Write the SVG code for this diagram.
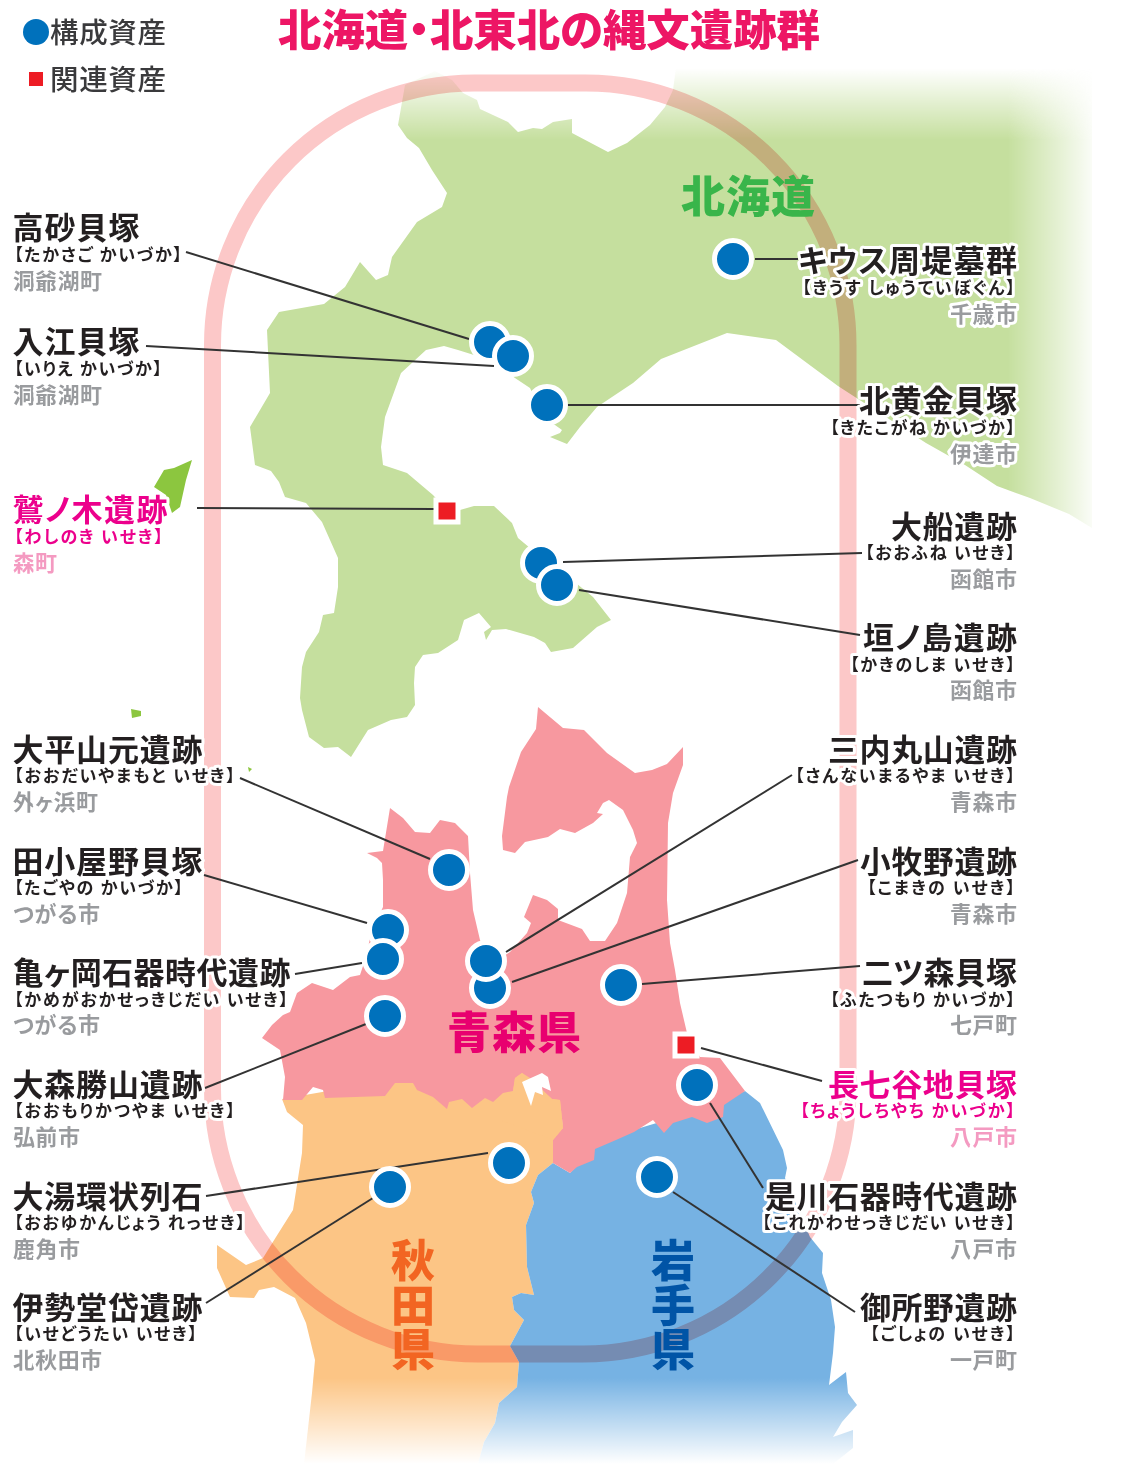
<svg xmlns="http://www.w3.org/2000/svg" width="1122" height="1466" viewBox="0 0 1122 1466">
<style>
text{font-family:"Noto Sans CJK JP","Noto Sans",sans-serif;font-feature-settings:"palt"}
.n{font-size:31px;font-weight:700;fill:#231f20}
.r{font-size:17px;font-weight:700;fill:#231f20}
.p{font-size:22px;font-weight:700;fill:#999b9e}
.h{paint-order:stroke;stroke:#fff;stroke-width:6px;stroke-linejoin:round}
.n.k{fill:#ec008c}.r.k{fill:#ec008c}.p.k{fill:#f49ac1}
.e{text-anchor:end}
.d{fill:#0071bc;stroke:#fff;stroke-width:5px}
.s{fill:#ed1c24;stroke:#fff;stroke-width:5px}
.c{stroke:#333;stroke-width:2px;fill:none}
.l{font-weight:900;font-size:44px}
.lg{font-size:28.5px;font-weight:500;fill:#3a3a3c}
</style>
<defs>
<linearGradient id="gt" gradientUnits="userSpaceOnUse" x1="0" y1="68" x2="0" y2="140"><stop offset="0" stop-color="#000"/><stop offset="1" stop-color="#fff"/></linearGradient>
<linearGradient id="gr" gradientUnits="userSpaceOnUse" x1="1008" y1="0" x2="1094" y2="0"><stop offset="0" stop-color="#fff"/><stop offset="1" stop-color="#111"/></linearGradient>
<linearGradient id="gb" gradientUnits="userSpaceOnUse" x1="0" y1="1378" x2="0" y2="1464"><stop offset="0" stop-color="#fff"/><stop offset="1" stop-color="#000"/></linearGradient>
<mask id="mt" maskUnits="userSpaceOnUse" x="0" y="0" width="1122" height="1466"><rect width="1122" height="1466" fill="url(#gt)"/></mask>
<mask id="mr" maskUnits="userSpaceOnUse" x="0" y="0" width="1122" height="1466"><rect width="1122" height="1466" fill="url(#gr)"/></mask>
<mask id="mb" maskUnits="userSpaceOnUse" x="0" y="0" width="1122" height="1466"><rect width="1122" height="1466" fill="url(#gb)"/></mask>
</defs>
<g id="map">
<g mask="url(#mr)"><g mask="url(#mt)"><path id="hokkaido" fill="#c5df9e" d="M435 71L452 80L463 93L477 100L480 109L508 122L518 132L533 128L542 129L553 122L572 119L572 133L608 152L627 143L650 125L665 107L673 90L677 60L1092 59L1092 528L1069 514L1030 498L997 486L965 465L926 443L838 386L811 366L776 340L727 333L661 359L633 383L597 407L580 427L567 444L550 437L560 433L562 430L555 425L545 420L530 388L515 378L490 360L458 350L444 346L426 350L401 373L385 417L381 447L383 465L407 473L433 495L447 510L460 510L474 506L494 506L512 523L518 538L530 548L560 570L593 597L611 620L597 627L573 648L551 652L545 643L534 637L506 629L492 630L486 640L484 632L491 627L479 613L464 620L458 640L438 653L423 655L415 667L414 683L415 705L407 717L391 720L368 730L351 757L338 747L324 748L309 737L302 710L300 698L302 667L306 652L319 632L323 615L334 613L338 587L338 558L322 522L306 503L285 497L279 482L271 471L255 465L250 427L270 393L267 330L279 312L324 304L345 287L360 262L376 280L388 275L392 257L417 222L442 207L447 193L432 170L419 148L407 138L398 125L405 85Z"/></g></g>
<path id="okushiri" fill="#8cc63f" d="M192 460L174 468L164 470L154 487L166 495L172 513L180 507L186 480Z"/>
<path id="oshima" fill="#8cc63f" d="M131 709L141 711L141 716L132 718Z"/>
<path id="kojima" fill="#8cc63f" d="M248 767L252 769L249 772Z"/>
<g mask="url(#mb)">
<path id="akita" fill="#fcc585" d="M282 1099L420 1075L560 1070L563 1128L553 1163L538 1175L531 1192L534 1203L526 1225L527 1267L534 1295L521 1293L512 1297L514 1310L524 1320L510 1346L519 1362L517 1387L499 1403L495 1423L484 1442L478 1464L304 1464L312 1393L315 1360L306 1323L295 1298L274 1287L259 1290L254 1298L230 1297L217 1268L217 1245L246 1265L263 1258L276 1237L293 1210L302 1153L303 1125L287 1112Z"/>
<path id="iwate" fill="#76b2e3" d="M745 1091L760 1103L783 1150L787 1168L785 1178L810 1237L823 1253L822 1273L831 1300L835 1327L833 1353L829 1385L846 1372L848 1393L857 1405L842 1422L833 1437L853 1430L853 1448L833 1464L478 1464L484 1442L495 1423L499 1403L517 1387L519 1362L510 1346L524 1320L514 1310L512 1297L521 1293L534 1295L527 1267L526 1225L534 1203L531 1192L538 1175L553 1163L570 1173L600 1140L700 1110Z"/>
</g>
<path id="aomori" fill="#f7989f" d="M538 707L563 728L584 730L607 753L635 773L652 770L667 764L683 747L683 765L673 793L668 823L667 900L670 943L675 970L680 1003L687 1033L700 1057L720 1058L745 1091L724 1105L723 1117L707 1123L692 1117L673 1123L664 1133L653 1120L634 1132L616 1140L595 1149L594 1160L577 1167L570 1173L553 1163L553 1140L563 1128L560 1100L552 1099L522 1073L515 1078L513 1091L503 1093L493 1102L485 1098L472 1108L462 1099L449 1102L447 1109L433 1097L417 1090L413 1083L395 1083L385 1096L325 1098L323 1090L313 1087L302 1100L283 1100L285 1077L280 1050L262 1038L272 1025L283 1015L290 1012L297 993L312 983L333 990L350 977L360 975L365 960L372 930L383 907L383 880L382 863L377 858L367 853L383 851L390 808L403 818L415 832L430 833L440 820L455 823L468 836L470 873L473 910L480 940L490 965L510 952L527 933L531 923L524 917L533 895L547 900L558 909L558 920L582 929L590 941L605 941L617 923L627 893L630 857L637 843L633 830L623 810L609 800L603 803L597 813L603 814L593 823L575 833L560 829L548 837L525 842L515 853L503 850L502 836L507 797L509 787L521 752L536 729Z"/>
<path id="akita-north" fill="#fcc585" d="M522 1073L530 1078L552 1099L560 1100L563 1128L553 1140L500 1120L510 1095L513 1091L515 1078Z"/>
<path id="towada" fill="#fff" d="M522 1082L542 1073L548 1077L551 1091L542 1087L543 1095L535 1092L531 1106Z"/>
</g>
<path id="ring" d="M474.500 83H586A262 262 0 0 1 848 345V1089A265 265 0 0 1 583 1354H477.500A265 265 0 0 1 212.500 1089V345A262 262 0 0 1 474.500 83Z" fill="none" stroke="#fcc8c8" stroke-width="17" style="mix-blend-mode:multiply"/>
<g id="connectors">
<line class="c" x1="186" y1="252" x2="469" y2="339"/>
<line class="c" x1="146" y1="346" x2="494" y2="366"/>
<line class="c" x1="563" y1="405" x2="860" y2="405"/>
<line class="c" x1="755" y1="259" x2="798" y2="259"/>
<line class="c" x1="197" y1="508" x2="434" y2="509"/>
<line class="c" x1="563" y1="562" x2="862" y2="553"/>
<line class="c" x1="579" y1="590" x2="860" y2="635"/>
<line class="c" x1="240" y1="778" x2="430" y2="859"/>
<line class="c" x1="204" y1="875" x2="367" y2="923"/>
<line class="c" x1="295" y1="974" x2="362" y2="963"/>
<line class="c" x1="205" y1="1088" x2="366" y2="1024"/>
<line class="c" x1="506" y1="952" x2="792" y2="775"/>
<line class="c" x1="512" y1="982" x2="858" y2="860"/>
<line class="c" x1="642" y1="984" x2="860" y2="966"/>
<line class="c" x1="701" y1="1048" x2="822" y2="1081"/>
<line class="c" x1="710" y1="1103" x2="763" y2="1188"/>
<line class="c" x1="673" y1="1192" x2="855" y2="1312"/>
<line class="c" x1="488" y1="1153" x2="206" y2="1196"/>
<line class="c" x1="373" y1="1198" x2="206" y2="1303"/>
</g>
<g id="title"><text x="278" y="46" font-size="43" font-weight="900" fill="#ed1665" textLength="542" lengthAdjust="spacingAndGlyphs">北海道・北東北の縄文遺跡群</text></g>
<g id="legend">
<circle cx="36" cy="32" r="13" fill="#0071bc"/><text class="lg" x="50" y="43" textLength="116">構成資産</text>
<rect x="29" y="72" width="14" height="14" fill="#ed1c24"/><text class="lg" x="50" y="90" textLength="116">関連資産</text>
</g>
<g id="region-labels">
<text class="l" x="681" y="213" fill="#39b54a" textLength="134">北海道</text>
<text class="l" x="447" y="1049" fill="#e8006f" textLength="134">青森県</text>
<text class="l" fill="#f26522" text-anchor="middle"><tspan x="413" y="1277">秋</tspan><tspan x="413" y="1322">田</tspan><tspan x="413" y="1366">県</tspan></text>
<text class="l" fill="#0054a6" text-anchor="middle"><tspan x="673" y="1277">岩</tspan><tspan x="673" y="1322">手</tspan><tspan x="673" y="1366">県</tspan></text>
</g>
<g id="takasago"><circle class="d" cx="490" cy="342" r="18.5"/><text class="n h" x="12.500" y="239" textLength="127">高砂貝塚</text><text class="r h" x="14" y="261" textLength="168">【たかさご かいづか】</text><text class="p h" x="13" y="289" textLength="89">洞爺湖町</text></g>
<g id="irie"><circle class="d" cx="513" cy="356" r="18.5"/><text class="n h" x="12.500" y="353" textLength="127">入江貝塚</text><text class="r h" x="14" y="375" textLength="148">【いりえ かいづか】</text><text class="p h" x="13" y="403" textLength="89">洞爺湖町</text></g>
<g id="kitakogane"><circle class="d" cx="547" cy="405" r="18.5"/><text class="n h e" x="1017" y="412" textLength="158">北黄金貝塚</text><text class="r h e" x="1015" y="434" textLength="185">【きたこがね かいづか】</text><text class="p h e" x="1017" y="462" textLength="67">伊達市</text></g>
<g id="kiusu"><circle class="d" cx="733" cy="259" r="18.5"/><text class="n h e" x="1017" y="272" textLength="219">キウス周堤墓群</text><text class="r h e" x="1015" y="294" textLength="213">【きうす しゅうていぼぐん】</text><text class="p h e" x="1017" y="322" textLength="67">千歳市</text></g>
<g id="washinoki"><rect class="s" x="436" y="500" width="22" height="22"/><text class="n h k" x="12.500" y="521" textLength="155">鷲ノ木遺跡</text><text class="r h k" x="14" y="543" textLength="149">【わしのき いせき】</text><text class="p h k" x="13" y="571" textLength="44">森町</text></g>
<g id="ofune"><circle class="d" cx="541" cy="563" r="18.5"/><text class="n h e" x="1017" y="538" textLength="126">大船遺跡</text><text class="r h e" x="1015" y="559" textLength="150">【おおふね いせき】</text><text class="p h e" x="1017" y="587" textLength="67">函館市</text></g>
<g id="kakinoshima"><circle class="d" cx="557" cy="585" r="18.5"/><text class="n h e" x="1017" y="649" textLength="154">垣ノ島遺跡</text><text class="r h e" x="1015" y="671" textLength="165">【かきのしま いせき】</text><text class="p h e" x="1017" y="698" textLength="67">函館市</text></g>
<g id="odaiyamamoto"><circle class="d" cx="449" cy="870" r="18.5"/><text class="n h" x="12.500" y="761" textLength="190">大平山元遺跡</text><text class="r h" x="14" y="782" textLength="221">【おおだいやまもと いせき】</text><text class="p h" x="13" y="810" textLength="85">外ヶ浜町</text></g>
<g id="tagoyano"><circle class="d" cx="388" cy="930" r="18.5"/><text class="n h" x="12.500" y="873" textLength="190">田小屋野貝塚</text><text class="r h" x="14" y="894" textLength="169">【たごやの かいづか】</text><text class="p h" x="13" y="922" textLength="87">つがる市</text></g>
<g id="kamegaoka"><circle class="d" cx="383" cy="959" r="18.5"/><text class="n h" x="12.500" y="984" textLength="278">亀ヶ岡石器時代遺跡</text><text class="r h" x="14" y="1006" textLength="274">【かめがおかせっきじだい いせき】</text><text class="p h" x="13" y="1033" textLength="87">つがる市</text></g>
<g id="omori"><circle class="d" cx="385" cy="1016" r="18.5"/><text class="n h" x="12.500" y="1096" textLength="190">大森勝山遺跡</text><text class="r h" x="14" y="1117" textLength="221">【おおもりかつやま いせき】</text><text class="p h" x="13" y="1145" textLength="67">弘前市</text></g>
<g id="komakino"><circle class="d" cx="490" cy="988" r="18.5"/><text class="n h e" x="1017" y="873" textLength="157">小牧野遺跡</text><text class="r h e" x="1015" y="894" textLength="148">【こまきの いせき】</text><text class="p h e" x="1017" y="922" textLength="67">青森市</text></g>
<g id="sannai"><circle class="d" cx="486" cy="961" r="18.5"/><text class="n h e" x="1017" y="761" textLength="189">三内丸山遺跡</text><text class="r h e" x="1015" y="782" textLength="220">【さんないまるやま いせき】</text><text class="p h e" x="1017" y="810" textLength="67">青森市</text></g>
<g id="futatsumori"><circle class="d" cx="621" cy="985" r="18.5"/><text class="n h e" x="1017" y="984" textLength="155">二ツ森貝塚</text><text class="r h e" x="1015" y="1006" textLength="185">【ふたつもり かいづか】</text><text class="p h e" x="1017" y="1033" textLength="67">七戸町</text></g>
<g id="choshichiyachi"><rect class="s" x="675" y="1034" width="22" height="22"/><text class="n h k e" x="1017" y="1096" textLength="189">長七谷地貝塚</text><text class="r h k e" x="1015" y="1117" textLength="215">【ちょうしちやち かいづか】</text><text class="p h k e" x="1017" y="1145" textLength="67">八戸市</text></g>
<g id="korekawa"><circle class="d" cx="697" cy="1085" r="18.5"/><text class="n h e" x="1017" y="1208" textLength="252">是川石器時代遺跡</text><text class="r h e" x="1015" y="1229" textLength="253">【これかわせっきじだい いせき】</text><text class="p h e" x="1017" y="1257" textLength="67">八戸市</text></g>
<g id="goshono"><circle class="d" cx="657" cy="1177" r="18.5"/><text class="n h e" x="1017" y="1319" textLength="157">御所野遺跡</text><text class="r h e" x="1015" y="1340" textLength="145">【ごしょの いせき】</text><text class="p h e" x="1017" y="1368" textLength="67">一戸町</text></g>
<g id="oyu"><circle class="d" cx="509" cy="1163" r="18.5"/><text class="n h" x="12.500" y="1208" textLength="190">大湯環状列石</text><text class="r h" x="14" y="1229" textLength="231">【おおゆかんじょう れっせき】</text><text class="p h" x="13" y="1257" textLength="67">鹿角市</text></g>
<g id="isedotai"><circle class="d" cx="390" cy="1187" r="18.5"/><text class="n h" x="12.500" y="1319" textLength="190">伊勢堂岱遺跡</text><text class="r h" x="14" y="1340" textLength="183">【いせどうたい いせき】</text><text class="p h" x="13" y="1368" textLength="89">北秋田市</text></g>
</svg>
